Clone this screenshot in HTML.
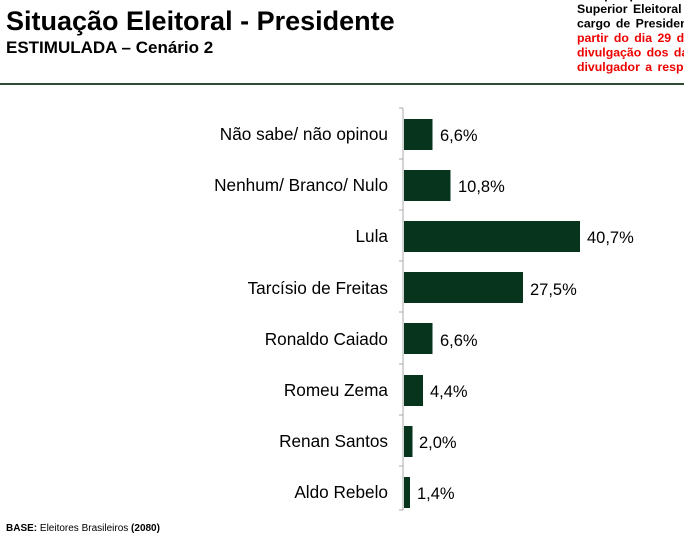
<!DOCTYPE html>
<html><head><meta charset="utf-8"><style>
body{margin:0;width:684px;height:536px;background:#fff;overflow:hidden;position:relative;font-family:"Liberation Sans",Arial,sans-serif}
</style></head><body>
<svg width="684" height="536" style="position:absolute;left:0;top:0" font-family="Liberation Sans, Arial, sans-serif">
<text x="6" y="30" font-size="27" font-weight="bold" fill="#000">Situação Eleitoral - Presidente</text>
<text x="6" y="53" font-size="17" font-weight="bold" fill="#000">ESTIMULADA – Cenário 2</text>
<g font-size="12.3" font-weight="bold" word-spacing="2">
<text x="577" y="-1" fill="#000">dos por pessoa física</text>
<text x="577" y="13" fill="#000">Superior Eleitoral</text>
<text x="577" y="27.5" fill="#000">cargo de Presidente</text>
<text x="577" y="42" fill="#e00">partir do dia 29 de</text>
<text x="577" y="56.5" fill="#e00">divulgação dos dados</text>
<text x="577" y="71" fill="#e00">divulgador a responsab</text>
</g>
<rect x="0" y="83" width="684" height="2" fill="#2f4a35"/>
<line x1="403" y1="108" x2="403" y2="510" stroke="#aaa" stroke-width="1"/>
<g stroke="#aaa">
<line x1="399" y1="108" x2="403" y2="108"/><line x1="399" y1="159" x2="403" y2="159"/><line x1="399" y1="210" x2="403" y2="210"/><line x1="399" y1="261" x2="403" y2="261"/><line x1="399" y1="312" x2="403" y2="312"/><line x1="399" y1="364" x2="403" y2="364"/><line x1="399" y1="415" x2="403" y2="415"/><line x1="399" y1="466" x2="403" y2="466"/><line x1="399" y1="510" x2="403" y2="510"/>
</g>
<g fill="#06341d">
<rect x="404" y="119" width="28.5" height="31"/>
<rect x="404" y="170" width="46.5" height="31"/>
<rect x="404" y="221" width="176" height="31"/>
<rect x="404" y="272" width="119" height="31"/>
<rect x="404" y="323" width="28.5" height="31"/>
<rect x="404" y="375" width="19" height="31"/>
<rect x="404" y="426" width="8.5" height="31"/>
<rect x="404" y="477" width="6" height="31"/>
</g>
<g font-size="17.2" fill="#000" text-anchor="end">
<text x="388" y="140">Não sabe/ não opinou</text>
<text x="388" y="191">Nenhum/ Branco/ Nulo</text>
<text x="388" y="242">Lula</text>
<text x="388" y="294">Tarcísio de Freitas</text>
<text x="388" y="345">Ronaldo Caiado</text>
<text x="388" y="396">Romeu Zema</text>
<text x="388" y="447">Renan Santos</text>
<text x="388" y="498">Aldo Rebelo</text>
</g>
<g font-size="16.5" fill="#000">
<text x="440" y="141">6,6%</text>
<text x="458" y="192">10,8%</text>
<text x="587" y="243">40,7%</text>
<text x="530" y="295">27,5%</text>
<text x="440" y="346">6,6%</text>
<text x="430" y="397">4,4%</text>
<text x="419" y="448">2,0%</text>
<text x="417" y="499">1,4%</text>
</g>
<text x="6" y="531" font-size="10" fill="#000"><tspan font-weight="bold">BASE:</tspan> Eleitores Brasileiros <tspan font-weight="bold">(2080)</tspan></text>
</svg>
</body></html>
